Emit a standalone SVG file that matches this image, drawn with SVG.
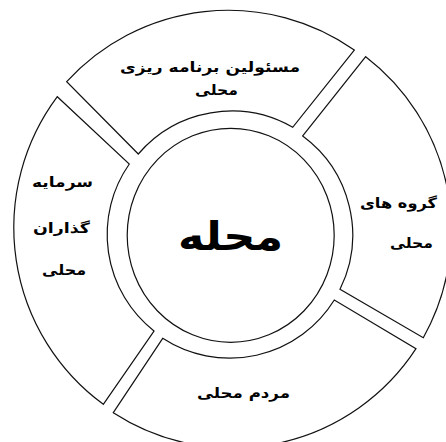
<svg xmlns="http://www.w3.org/2000/svg" width="446" height="442" viewBox="0 0 446 442">
<style>
.seg{fill:#fff;stroke:#111;stroke-width:1.2}
.t{font-family:"DejaVu Sans",sans-serif;font-weight:bold;font-size:14px;fill:#000;text-anchor:middle}
.c{font-family:"DejaVu Sans",sans-serif;font-weight:bold;font-size:40px;fill:#000;text-anchor:middle}
</style>
<rect width="446" height="442" fill="#fff"/>
<g id="connectors"/>
<g id="node-top">
<path class="seg" d="M66.7 81.7 A219 219 0 0 1 354.3 50 L292.7 127.3 A123 123 0 0 0 138.3 154 Z"/>
<text class="t" x="210" y="72" textLength="180" lengthAdjust="spacingAndGlyphs">مسئولین برنامه ریزی</text>
<text class="t" x="216.5" y="95" textLength="43" lengthAdjust="spacingAndGlyphs">محلی</text>
</g>
<g id="node-right">
<path class="seg" d="M365.7 56.7 A219 219 0 0 1 423.3 337.7 L340 289.3 A123 123 0 0 0 302.7 136 Z"/>
<text class="t" x="398.5" y="208" textLength="77" lengthAdjust="spacingAndGlyphs">گروه های</text>
<text class="t" x="411.5" y="248" textLength="43" lengthAdjust="spacingAndGlyphs">محلی</text>
</g>
<g id="node-bottom">
<path class="seg" d="M416 348.7 A219 219 0 0 1 113.3 412.7 L162.7 338.3 A123 123 0 0 0 334.3 300 Z"/>
<text class="t" x="243.5" y="398" textLength="93" lengthAdjust="spacingAndGlyphs">مردم محلی</text>
</g>
<g id="node-left">
<path class="seg" d="M103.3 404.3 A219 219 0 0 1 57.3 96.7 L129.3 164 A123 123 0 0 0 154 331 Z"/>
<text class="t" x="62.5" y="187" textLength="61" lengthAdjust="spacingAndGlyphs">سرمایه</text>
<text class="t" x="61.5" y="233" textLength="57" lengthAdjust="spacingAndGlyphs">گذاران</text>
<text class="t" x="64" y="275" textLength="44" lengthAdjust="spacingAndGlyphs">محلی</text>
</g>
<g id="node-center">
<ellipse class="seg" cx="230.7" cy="235.3" rx="103.5" ry="107"/>
<text class="c" x="230.5" y="250" textLength="105" lengthAdjust="spacingAndGlyphs">محله</text>
</g>
</svg>
